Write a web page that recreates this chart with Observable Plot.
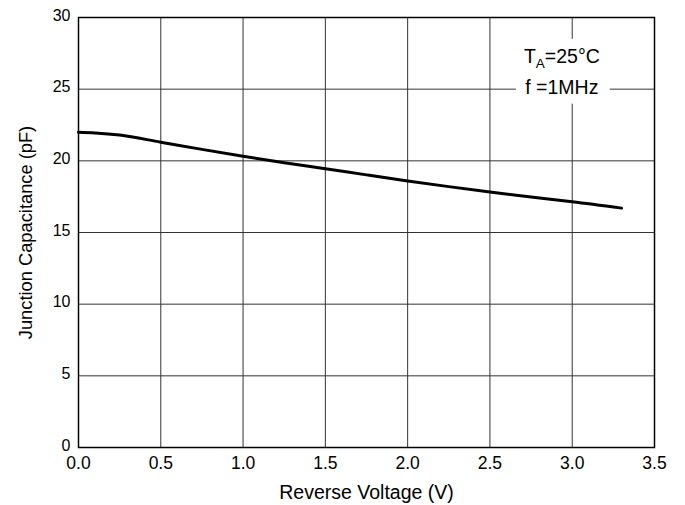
<!DOCTYPE html>
<html><head><meta charset="utf-8">
<script src="https://cdn.jsdelivr.net/npm/d3@7"></script>
<script src="https://cdn.jsdelivr.net/npm/@observablehq/plot@0.6"></script>
<style>body{margin:0;background:#fff} #chart svg{font-family:"Liberation Sans",Arial,sans-serif}</style>
</head><body><div id="chart"></div>
<script>
const voltage = [0, 0.1, 0.25, 0.5, 0.75, 1.0, 1.25, 1.5, 1.75, 2.0, 2.25, 2.5, 2.75, 3.0, 3.3];
const capacitance = [22.0, 21.95, 21.8, 21.3, 20.8, 20.32, 19.87, 19.45, 19.02, 18.6, 18.2, 17.82, 17.47, 17.15, 16.7];
const xTicks = [0, 0.5, 1.0, 1.5, 2.0, 2.5, 3.0, 3.5];
const yTicks = [0, 5, 10, 15, 20, 25, 30];
const annoX = 2.94, annoY1 = 26.8, annoY2 = 24.65;

const data = voltage.map((v, i) => ({v, c: capacitance[i]}));

const chart = Plot.plot({
  width: 685, height: 505,
  marginLeft: 78, marginRight: 31, marginTop: 17, marginBottom: 58,
  style: {fontSize: "16px", fontFamily: "'Liberation Sans', Arial, sans-serif", color: "#000", background: "#fff"},
  x: {domain: [0, 3.5], ticks: xTicks, tickFormat: d3.format(".1f"), tickSize: 0, tickPadding: 9, label: "Reverse Voltage (V)", labelAnchor: "center", labelOffset: 51},
  y: {domain: [0, 30], ticks: yTicks, tickSize: 0, tickPadding: 8, label: "Junction Capacitance (pF)", labelAnchor: "center", labelOffset: 60, labelArrow: "none"},
  marks: [
    Plot.gridX(xTicks, {stroke: "#333", strokeOpacity: 1, strokeWidth: 1}),
    Plot.gridY(yTicks, {stroke: "#333", strokeOpacity: 1, strokeWidth: 1}),
    Plot.frame({stroke: "#000", strokeWidth: 1.5}),
    Plot.line(data, {x: "v", y: "c", stroke: "#000", strokeWidth: 3, curve: "monotone-x"})
  ]
});
document.getElementById("chart").appendChild(chart);

const svg = d3.select(chart);
svg.selectAll("g[aria-label='x-axis tick label'] text").style("font-size", "17.5px");
svg.selectAll("g[aria-label='y-axis tick label'] text").style("font-size", "16px").attr("dy", "-0.12em");
svg.select("g[aria-label='x-axis label'] text").style("font-size", "19.5px").text("Reverse Voltage (V)");
svg.select("g[aria-label='y-axis label'] text").style("font-size", "18.3px").text("Junction Capacitance (pF)");

// annotation
const sx = chart.scale("x"), sy = chart.scale("y");
const g = svg.append("g").attr("font-size", 19.5).attr("text-anchor", "middle");
const rect = g.append("rect").attr("fill", "#fff");
const t1 = g.append("text").attr("x", sx.apply(annoX)).attr("y", sy.apply(annoY1));
t1.append("tspan").text("T");
t1.append("tspan").attr("font-size", 13.5).attr("dy", 5).text("A");
t1.append("tspan").attr("dy", -5).text("=25°C");
const t2 = g.append("text").attr("x", sx.apply(annoX)).attr("y", sy.apply(annoY2)).text("f =1MHz");
const b1 = t1.node().getBBox(), b2 = t2.node().getBBox();
const x0 = Math.min(b1.x, b2.x) - 8, x1 = Math.max(b1.x + b1.width, b2.x + b2.width) + 10;
const y0 = b1.y - 6, y1 = b2.y + b2.height + 6;
rect.attr("x", x0).attr("y", y0).attr("width", x1 - x0).attr("height", y1 - y0);
</script></body></html>
